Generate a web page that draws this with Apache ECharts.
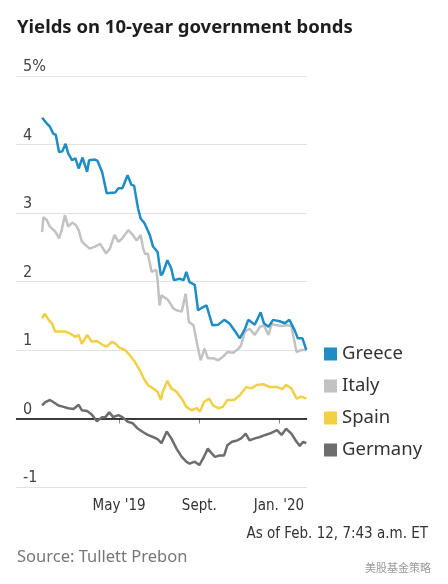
<!DOCTYPE html>
<html>
<head>
<meta charset="utf-8">
<script src="https://cdn.jsdelivr.net/npm/echarts@6/dist/echarts.min.js"></script>
<style>
  html, body { margin: 0; padding: 0; background: #ffffff; }
  #chart { width: 448px; height: 584px; }
</style>
</head>
<body>
<div id="chart"></div>
<script>
const seriesNames = ['Greece', 'Italy', 'Spain', 'Germany'];
const seriesColors = ['#1f8cc4', '#c2c2c2', '#f3cf45', '#6d6d6d'];

const greece = [
  ['2019-01-03',4.39],['2019-01-10',4.31],['2019-01-15',4.26],['2019-01-20',4.16],['2019-01-24',4.14],
  ['2019-01-29',3.89],['2019-02-03',3.90],['2019-02-08',4.01],['2019-02-12',3.87],['2019-02-18',3.77],
  ['2019-02-23',3.80],['2019-02-28',3.65],['2019-03-06',3.81],['2019-03-13',3.60],['2019-03-16',3.77],
  ['2019-03-25',3.78],['2019-03-29',3.76],['2019-04-05',3.60],['2019-04-12',3.29],['2019-04-25',3.30],
  ['2019-04-30',3.36],['2019-05-06',3.36],['2019-05-14',3.55],['2019-05-20',3.41],['2019-05-24',3.40],
  ['2019-05-30',3.07],['2019-06-03',2.92],['2019-06-09',2.85],['2019-06-17',2.68],['2019-06-22',2.51],
  ['2019-06-29',2.43],['2019-07-04',2.09],['2019-07-07',2.12],['2019-07-14',2.31],['2019-07-20',2.19],
  ['2019-07-24',2.02],['2019-08-02',2.04],['2019-08-08',2.02],['2019-08-12',2.14],['2019-08-17',1.99],
  ['2019-08-25',1.95],['2019-08-30',1.58],['2019-09-04',1.61],['2019-09-12',1.65],['2019-09-21',1.36],
  ['2019-09-30',1.37],['2019-10-09',1.44],['2019-10-17',1.39],['2019-10-26',1.27],['2019-11-02',1.17],
  ['2019-11-10',1.31],['2019-11-15',1.44],['2019-11-25',1.37],['2019-12-04',1.55],['2019-12-09',1.39],
  ['2019-12-16',1.34],['2019-12-23',1.44],['2020-01-02',1.42],['2020-01-10',1.39],['2020-01-17',1.44],
  ['2020-01-25',1.29],['2020-01-30',1.17],['2020-02-06',1.17],['2020-02-12',1.00]
];

const italy = [
  ['2019-01-03',2.72],['2019-01-05',2.94],['2019-01-10',2.90],['2019-01-15',2.80],['2019-01-23',2.73],
  ['2019-01-29',2.63],['2019-02-02',2.75],['2019-02-07',2.97],['2019-02-12',2.80],['2019-02-18',2.86],
  ['2019-02-24',2.82],['2019-02-28',2.75],['2019-03-05',2.58],['2019-03-11',2.53],['2019-03-17',2.48],
  ['2019-03-25',2.51],['2019-04-02',2.55],['2019-04-11',2.41],['2019-04-17',2.48],['2019-04-24',2.68],
  ['2019-04-30',2.58],['2019-05-06',2.63],['2019-05-15',2.75],['2019-05-22',2.68],['2019-05-28',2.60],
  ['2019-06-03',2.68],['2019-06-07',2.48],['2019-06-10',2.40],['2019-06-14',2.41],['2019-06-20',2.14],
  ['2019-06-27',2.17],['2019-06-29',2.02],['2019-07-02',1.65],['2019-07-05',1.80],['2019-07-15',1.73],
  ['2019-07-23',1.61],['2019-07-28',1.58],['2019-08-05',1.56],['2019-08-11',1.82],['2019-08-16',1.41],
  ['2019-08-23',1.36],['2019-08-29',1.07],['2019-09-03',0.85],['2019-09-09',1.02],['2019-09-14',0.88],
  ['2019-09-22',0.88],['2019-09-30',0.85],['2019-10-07',0.90],['2019-10-14',0.97],['2019-10-23',0.96],
  ['2019-10-31',1.02],['2019-11-04',1.07],['2019-11-10',1.27],['2019-11-17',1.31],['2019-11-25',1.22],
  ['2019-12-03',1.34],['2019-12-09',1.36],['2019-12-16',1.22],['2019-12-21',1.38],['2019-12-29',1.36],
  ['2020-01-06',1.35],['2020-01-12',1.36],['2020-01-20',1.35],['2020-01-28',0.97],['2020-02-04',1.00],
  ['2020-02-12',1.00]
];

const spain = [
  ['2019-01-03',1.46],['2019-01-07',1.53],['2019-01-13',1.44],['2019-01-18',1.39],['2019-01-23',1.27],
  ['2019-01-31',1.27],['2019-02-07',1.27],['2019-02-15',1.24],['2019-02-23',1.19],['2019-02-28',1.22],
  ['2019-03-05',1.09],['2019-03-13',1.22],['2019-03-20',1.12],['2019-03-28',1.13],['2019-04-05',1.08],
  ['2019-04-12',1.05],['2019-04-20',1.12],['2019-04-26',1.09],['2019-05-02',1.03],['2019-05-10',1.00],
  ['2019-05-17',0.93],['2019-05-25',0.83],['2019-06-02',0.70],['2019-06-08',0.58],['2019-06-14',0.49],
  ['2019-06-22',0.44],['2019-06-29',0.39],['2019-07-04',0.27],['2019-07-07',0.39],['2019-07-14',0.55],
  ['2019-07-20',0.44],['2019-07-28',0.39],['2019-08-05',0.29],['2019-08-12',0.17],['2019-08-20',0.12],
  ['2019-08-28',0.15],['2019-09-02',0.10],['2019-09-08',0.24],['2019-09-16',0.29],['2019-09-22',0.19],
  ['2019-09-30',0.15],['2019-10-07',0.17],['2019-10-14',0.27],['2019-10-24',0.27],['2019-11-02',0.34],
  ['2019-11-12',0.46],['2019-11-20',0.44],['2019-11-28',0.49],['2019-12-08',0.50],['2019-12-18',0.46],
  ['2019-12-29',0.46],['2020-01-06',0.43],['2020-01-12',0.49],['2020-01-20',0.44],['2020-01-28',0.29],
  ['2020-02-04',0.32],['2020-02-12',0.29]
];

const germany = [
  ['2019-01-03',0.19],['2019-01-08',0.24],['2019-01-15',0.27],['2019-01-20',0.24],['2019-01-28',0.19],
  ['2019-02-05',0.17],['2019-02-12',0.15],['2019-02-20',0.14],['2019-02-28',0.20],['2019-03-05',0.12],
  ['2019-03-13',0.11],['2019-03-20',0.06],['2019-03-28',-0.04],['2019-04-05',0.02],['2019-04-10',0.02],
  ['2019-04-16',0.09],['2019-04-22',0.02],['2019-04-30',0.05],['2019-05-06',0.02],['2019-05-15',-0.05],
  ['2019-05-22',-0.07],['2019-05-30',-0.15],['2019-06-07',-0.20],['2019-06-14',-0.24],['2019-06-22',-0.27],
  ['2019-06-29',-0.30],['2019-07-05',-0.36],['2019-07-13',-0.19],['2019-07-20',-0.29],['2019-07-28',-0.44],
  ['2019-08-05',-0.56],['2019-08-12',-0.63],['2019-08-17',-0.66],['2019-08-25',-0.63],['2019-09-01',-0.68],
  ['2019-09-07',-0.58],['2019-09-14',-0.44],['2019-09-20',-0.51],['2019-09-25',-0.56],['2019-10-02',-0.54],
  ['2019-10-09',-0.54],['2019-10-14',-0.39],['2019-10-21',-0.34],['2019-10-29',-0.32],['2019-11-04',-0.29],
  ['2019-11-11',-0.22],['2019-11-17',-0.32],['2019-11-25',-0.29],['2019-12-03',-0.27],['2019-12-11',-0.24],
  ['2019-12-18',-0.22],['2019-12-29',-0.17],['2020-01-05',-0.24],['2020-01-12',-0.15],['2020-01-20',-0.22],
  ['2020-01-28',-0.34],['2020-02-02',-0.40],['2020-02-07',-0.34],['2020-02-12',-0.36]
];

const xTickDates = ['2019-05-01', '2019-09-01', '2020-01-01'];
const xTickLabels = ["May '19", 'Sept.', "Jan. '20"];
const yTickValues = [-1, 0, 1, 2, 3, 4, 5];
const yTickLabels = ['-1', '0', '1', '2', '3', '4', '5%'];

const narrow = "'Liberation Sans Narrow', 'DejaVu Sans Condensed', Roboto, sans-serif";
const sans = "'Noto Sans', 'Open Sans', sans-serif";

const toTime = d => Date.parse(d + 'T00:00:00Z');
const xTickTimes = xTickDates.map(toTime);
const allData = [greece, italy, spain, germany].map(arr => arr.map(p => [toTime(p[0]), p[1]]));

const chart = echarts.init(document.getElementById('chart'), null, { renderer: 'canvas' });

chart.setOption({
  animation: false,
  backgroundColor: '#ffffff',
  title: [
    { text: 'Yields on 10-year government bonds', left: 12, top: 13,
      textStyle: { fontFamily: sans, fontSize: 18.5, fontWeight: 'bold', color: '#1e1e1e' } },
    { text: 'As of Feb. 12, 7:43 a.m. ET', right: 15, top: 522,
      textStyle: { fontFamily: narrow, fontSize: 15, fontWeight: 'normal', color: '#333' } },
    { text: 'Source: Tullett Prebon', left: 12, top: 544,
      textStyle: { fontFamily: sans, fontSize: 16.5, fontWeight: 'normal', color: '#777' } },
    { text: '美股基金策略', right: 12, top: 557,
      textStyle: { fontFamily: "'Noto Sans CJK SC', sans-serif", fontSize: 11, fontWeight: 'normal', color: '#9a9a9a' } }
  ],
  legend: {
    orient: 'vertical', left: 319, top: 339,
    icon: 'rect', itemWidth: 13, itemHeight: 13, itemGap: 12,
    data: seriesNames,
    textStyle: { fontFamily: sans, fontSize: 18.5, color: '#333', lineHeight: 20 }
  },
  grid: { left: 16, right: 141, top: 76, bottom: 97 },
  xAxis: {
    type: 'value',
    min: toTime('2018-11-24'),
    max: toTime('2020-02-13'),
    axisLine: { show: true, lineStyle: { color: '#d4d4d4', width: 1 } },
    axisTick: { show: true, length: 5, lineStyle: { color: '#888' }, customValues: xTickTimes },
    axisLabel: {
      customValues: xTickTimes,
      formatter: v => { const i = xTickTimes.indexOf(v); return i >= 0 ? xTickLabels[i] : ''; },
      fontFamily: narrow, fontSize: 15, color: '#333', margin: 12
    },
    splitLine: { show: false }
  },
  yAxis: {
    type: 'value', min: -1, max: 5, interval: 1,
    axisLine: { show: false }, axisTick: { show: false },
    axisLabel: {
      inside: true, margin: 7, verticalAlign: 'bottom',
      formatter: v => yTickLabels[yTickValues.indexOf(v)],
      fontFamily: narrow, fontSize: 16, color: '#444', padding: [0, 0, 1, 0]
    },
    splitLine: { show: true, lineStyle: { color: '#e2e2e2', width: 1 } }
  },
  series: seriesNames.map((name, i) => ({
    name, type: 'line', data: allData[i], showSymbol: false, symbol: 'none',
    color: seriesColors[i],
    lineStyle: { color: seriesColors[i], width: 2.5 },
    z: 10 - i,
    markLine: i === 3 ? {
      silent: true, symbol: 'none', label: { show: false },
      lineStyle: { color: '#000', width: 1.5, type: 'solid' },
      data: [{ yAxis: 0 }]
    } : undefined
  }))
});
</script>
</body>
</html>
